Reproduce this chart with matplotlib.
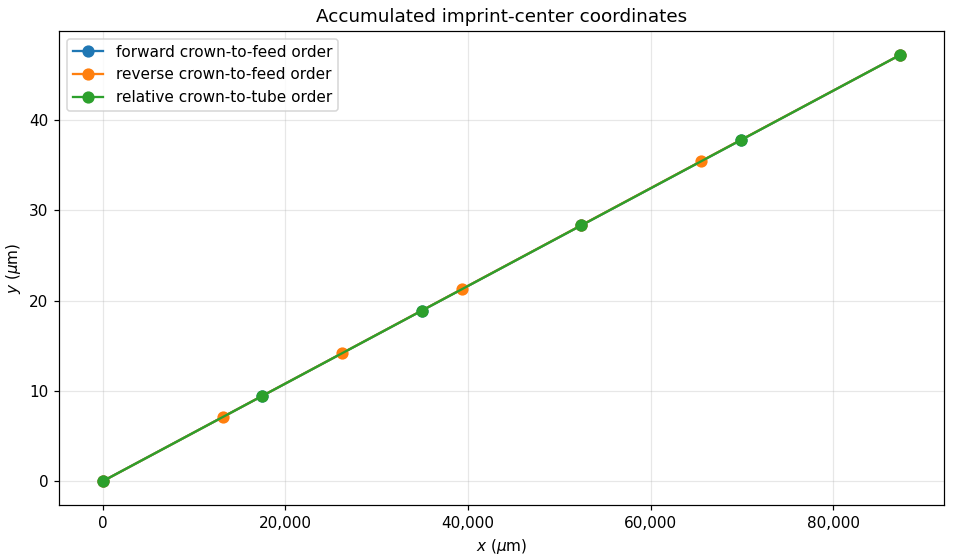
import matplotlib
matplotlib.use('Agg')
import matplotlib.pyplot as plt
from matplotlib.ticker import FuncFormatter

# Накопленные координаты центров отпечатков (мкм)
forward_x = [0, 17470, 34940, 52410, 69880, 87350]
forward_y = [0, 9.45, 18.9, 28.35, 37.8, 47.25]

reverse_x = [0, 13100, 26200, 39300, 52400, 65500, 87350]
reverse_y = [0, 7.09, 14.18, 21.27, 28.36, 35.45, 47.25]

relative_x = [0, 17470, 34940, 52410, 69880, 87350]
relative_y = [0, 9.45, 18.9, 28.35, 37.8, 47.25]

DPI = 110
fig, ax = plt.subplots(figsize=(953 / DPI, 557 / DPI), dpi=DPI)

ax.plot(forward_x, forward_y, marker='o', markersize=7, label='forward crown-to-feed order')
ax.plot(reverse_x, reverse_y, marker='o', markersize=7, label='reverse crown-to-feed order')
ax.plot(relative_x, relative_y, marker='o', markersize=7, label='relative crown-to-tube order')

ax.set_title('Accumulated imprint-center coordinates')
ax.set_xlabel(r'$x$ ($\mu$m)')
ax.set_ylabel(r'$y$ ($\mu$m)')
ax.xaxis.set_major_formatter(FuncFormatter(lambda v, p: f'{v:,.0f}'))
ax.margins(x=0.055, y=0.056)
ax.grid(True, alpha=0.3)
ax.legend(loc='upper left')

fig.subplots_adjust(left=0.062, right=0.9906, top=0.9443, bottom=0.0934)
fig.savefig('out.png', dpi=DPI)
